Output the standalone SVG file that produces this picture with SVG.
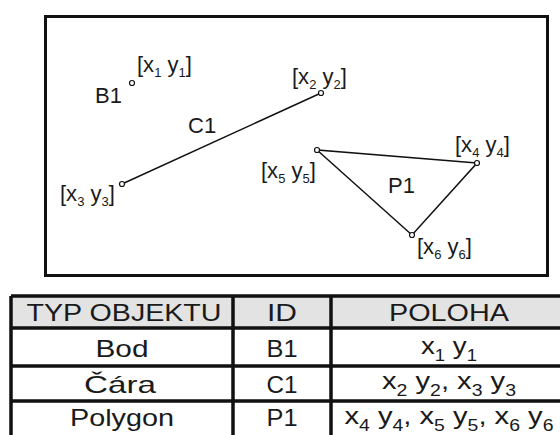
<svg xmlns="http://www.w3.org/2000/svg" width="560" height="435" viewBox="0 0 560 435">
<style>
text{font-family:"Liberation Sans",Arial,sans-serif;fill:#1a1a1a}
.lbl{font-size:22px}
.sub{font-size:13px}
.tsub{font-size:16px}
.tt{font-size:24px;text-anchor:middle}
.pt{fill:#fff;stroke:#111;stroke-width:1.2}
.ln{fill:none;stroke:#111;stroke-width:1.5}
.grid{stroke:#111;stroke-width:3.5;fill:none}
</style>
<rect x="0" y="0" width="560" height="435" fill="#fff"/>
<rect id="frame" x="45.5" y="16.5" width="502" height="259" fill="none" stroke="#111" stroke-width="3"/>
<g id="connectors">
<line class="ln" x1="122" y1="184" x2="321" y2="93"/>
<polygon class="ln" points="477,163 317,150 412,235"/>
</g>
<g id="B1">
<circle class="pt" cx="132" cy="83" r="2.5"/>
<text class="lbl" x="95" y="103">B1</text>
<text class="lbl" x="137" y="72">[x<tspan class="sub" dy="5">1</tspan><tspan dy="-5"> y</tspan><tspan class="sub" dy="5">1</tspan><tspan dy="-5">]</tspan></text>
</g>
<g id="C1">
<circle class="pt" cx="321" cy="93" r="2.5"/>
<circle class="pt" cx="122" cy="184" r="2.5"/>
<text class="lbl" x="188" y="133">C1</text>
<text class="lbl" x="292" y="84">[x<tspan class="sub" dy="5">2</tspan><tspan dy="-5"> y</tspan><tspan class="sub" dy="5">2</tspan><tspan dy="-5">]</tspan></text>
<text class="lbl" x="60" y="201">[x<tspan class="sub" dy="5">3</tspan><tspan dy="-5"> y</tspan><tspan class="sub" dy="5">3</tspan><tspan dy="-5">]</tspan></text>
</g>
<g id="P1">
<circle class="pt" cx="477" cy="163" r="2.5"/>
<circle class="pt" cx="317" cy="150" r="2.5"/>
<circle class="pt" cx="412" cy="235" r="2.5"/>
<text class="lbl" x="388" y="193">P1</text>
<text class="lbl" x="455" y="152">[x<tspan class="sub" dy="5">4</tspan><tspan dy="-5"> y</tspan><tspan class="sub" dy="5">4</tspan><tspan dy="-5">]</tspan></text>
<text class="lbl" x="261" y="178">[x<tspan class="sub" dy="5">5</tspan><tspan dy="-5"> y</tspan><tspan class="sub" dy="5">5</tspan><tspan dy="-5">]</tspan></text>
<text class="lbl" x="417" y="254">[x<tspan class="sub" dy="5">6</tspan><tspan dy="-5"> y</tspan><tspan class="sub" dy="5">6</tspan><tspan dy="-5">]</tspan></text>
</g>
<g id="table">
<rect x="11" y="296" width="560" height="32" fill="#e3e3e3"/>
<path class="grid" d="M11 296 H575 M11 328 H575 M11 366 H575 M11 401 H575 M11 296 V440 M233 296 V440 M331 296 V440"/>
<text class="tt" x="124" y="321" textLength="195" lengthAdjust="spacingAndGlyphs">TYP OBJEKTU</text>
<text class="tt" x="282" y="321" textLength="30" lengthAdjust="spacingAndGlyphs">ID</text>
<text class="tt" x="449" y="321" textLength="120" lengthAdjust="spacingAndGlyphs">POLOHA</text>
<text class="tt" x="122" y="357" textLength="53" lengthAdjust="spacingAndGlyphs">Bod</text>
<text class="tt" x="282" y="357" textLength="31" lengthAdjust="spacingAndGlyphs">B1</text>
<text class="tt" x="449" y="354" textLength="56" lengthAdjust="spacingAndGlyphs">x<tspan class="tsub" dy="7">1</tspan><tspan dy="-7"> y</tspan><tspan class="tsub" dy="7">1</tspan></text>
<text class="tt" x="120" y="393" textLength="72" lengthAdjust="spacingAndGlyphs">Čára</text>
<text class="tt" x="282" y="393" textLength="31" lengthAdjust="spacingAndGlyphs">C1</text>
<text class="tt" x="449" y="389" textLength="134" lengthAdjust="spacingAndGlyphs">x<tspan class="tsub" dy="7">2</tspan><tspan dy="-7"> y</tspan><tspan class="tsub" dy="7">2</tspan><tspan dy="-7">, x</tspan><tspan class="tsub" dy="7">3</tspan><tspan dy="-7"> y</tspan><tspan class="tsub" dy="7">3</tspan></text>
<text class="tt" x="122" y="426" textLength="104" lengthAdjust="spacingAndGlyphs">Polygon</text>
<text class="tt" x="282" y="426" textLength="31" lengthAdjust="spacingAndGlyphs">P1</text>
<text class="tt" x="449" y="424" textLength="209" lengthAdjust="spacingAndGlyphs">x<tspan class="tsub" dy="7">4</tspan><tspan dy="-7"> y</tspan><tspan class="tsub" dy="7">4</tspan><tspan dy="-7">, x</tspan><tspan class="tsub" dy="7">5</tspan><tspan dy="-7"> y</tspan><tspan class="tsub" dy="7">5</tspan><tspan dy="-7">, x</tspan><tspan class="tsub" dy="7">6</tspan><tspan dy="-7"> y</tspan><tspan class="tsub" dy="7">6</tspan></text>
</g>
</svg>
